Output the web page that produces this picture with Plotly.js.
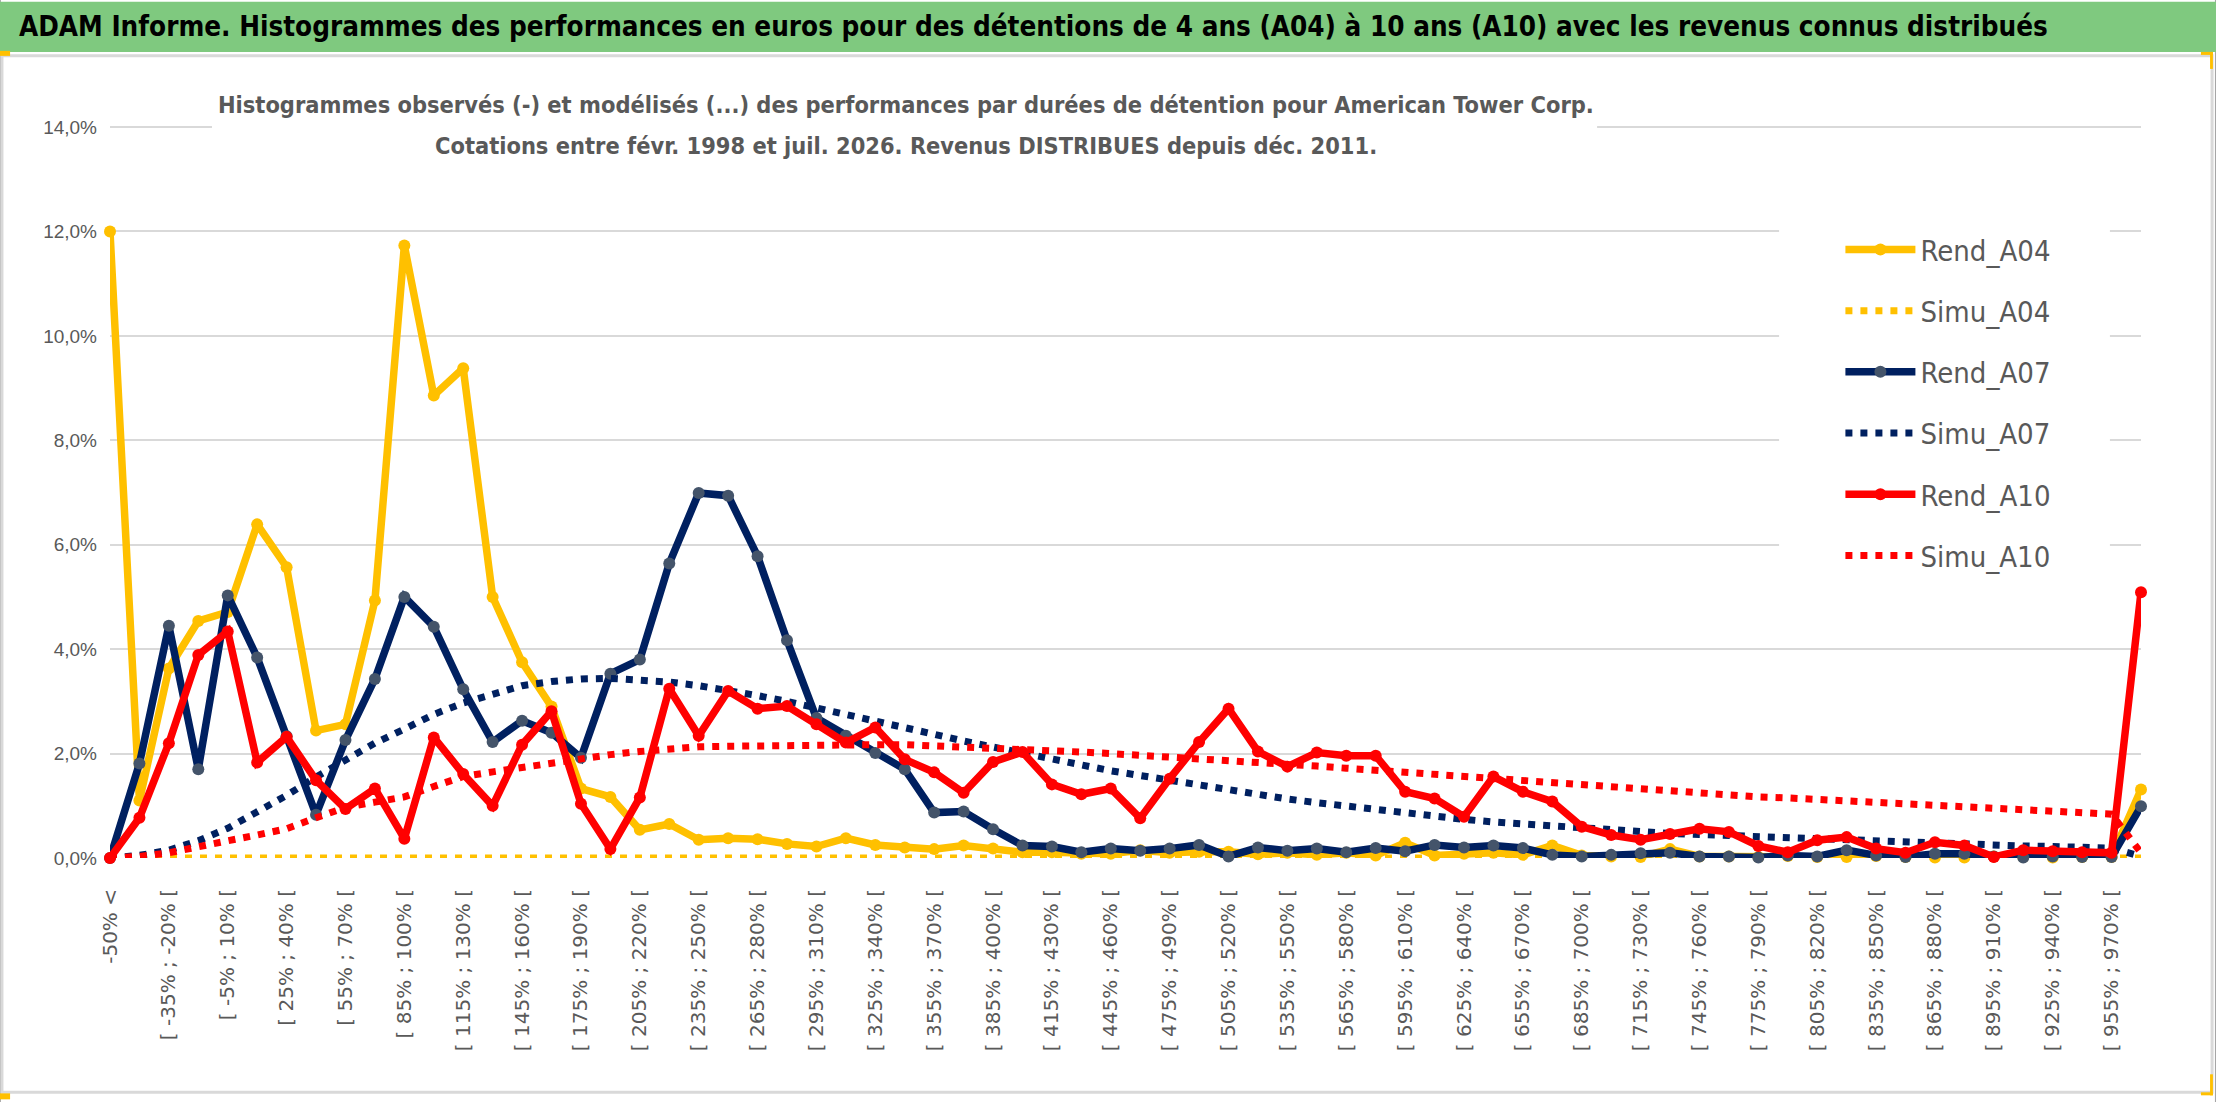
<!DOCTYPE html>
<html>
<head>
<meta charset="utf-8">
<script src="https://cdn.plot.ly/plotly-3.0.1.min.js"></script>
<style>
  html, body { margin: 0; padding: 0; background: #fff; }
</style>
</head>
<body>
<div id="chart"></div>
<script>
// classes de performance (70 intervalles)
const categories = [
  "-50% <",
  "[ -50% ; -35% [", "[ -35% ; -20% [", "[ -20% ; -5% [", "[ -5% ; 10% [", "[ 10% ; 25% [",
  "[ 25% ; 40% [", "[ 40% ; 55% [", "[ 55% ; 70% [", "[ 70% ; 85% [", "[ 85% ; 100% [",
  "[ 100% ; 115% [", "[ 115% ; 130% [", "[ 130% ; 145% [", "[ 145% ; 160% [", "[ 160% ; 175% [",
  "[ 175% ; 190% [", "[ 190% ; 205% [", "[ 205% ; 220% [", "[ 220% ; 235% [", "[ 235% ; 250% [",
  "[ 250% ; 265% [", "[ 265% ; 280% [", "[ 280% ; 295% [", "[ 295% ; 310% [", "[ 310% ; 325% [",
  "[ 325% ; 340% [", "[ 340% ; 355% [", "[ 355% ; 370% [", "[ 370% ; 385% [", "[ 385% ; 400% [",
  "[ 400% ; 415% [", "[ 415% ; 430% [", "[ 430% ; 445% [", "[ 445% ; 460% [", "[ 460% ; 475% [",
  "[ 475% ; 490% [", "[ 490% ; 505% [", "[ 505% ; 520% [", "[ 520% ; 535% [", "[ 535% ; 550% [",
  "[ 550% ; 565% [", "[ 565% ; 580% [", "[ 580% ; 595% [", "[ 595% ; 610% [", "[ 610% ; 625% [",
  "[ 625% ; 640% [", "[ 640% ; 655% [", "[ 655% ; 670% [", "[ 670% ; 685% [", "[ 685% ; 700% [",
  "[ 700% ; 715% [", "[ 715% ; 730% [", "[ 730% ; 745% [", "[ 745% ; 760% [", "[ 760% ; 775% [",
  "[ 775% ; 790% [", "[ 790% ; 805% [", "[ 805% ; 820% [", "[ 820% ; 835% [", "[ 835% ; 850% [",
  "[ 850% ; 865% [", "[ 865% ; 880% [", "[ 880% ; 895% [", "[ 895% ; 910% [", "[ 910% ; 925% [",
  "[ 925% ; 940% [", "[ 940% ; 955% [", "[ 955% ; 970% [", "970% >"
];

// frequences en %
const rendA04 = [12.0, 1.1, 3.63, 4.54, 4.71, 6.39, 5.57, 2.44, 2.56, 4.93,
  11.73, 8.86, 9.38, 5.0, 3.75, 2.9, 1.33, 1.17, 0.54, 0.65,
  0.35, 0.38, 0.36, 0.27, 0.22, 0.38, 0.25, 0.2, 0.17, 0.24,
  0.18, 0.11, 0.11, 0.08, 0.08, 0.15, 0.1, 0.12, 0.12, 0.07,
  0.1, 0.06, 0.1, 0.05, 0.29, 0.05, 0.08, 0.1, 0.06, 0.24,
  0.05, 0.03, 0.02, 0.17, 0.03, 0.03, 0.02, 0.04, 0.02, 0.02,
  0.04, 0.02, 0.01, 0.01, 0.03, 0.02, 0.01, 0.02, 0.02, 1.31];
const simuA04 = [0, 0, 0, 0, 0, 0, 0, 0, 0, 0,
  0, 0, 0, 0, 0, 0, 0, 0, 0, 0,
  0, 0, 0, 0, 0, 0, 0, 0, 0, 0,
  0, 0, 0, 0, 0, 0, 0, 0, 0, 0,
  0, 0, 0, 0, 0, 0, 0, 0, 0, 0,
  0, 0, 0, 0, 0, 0, 0, 0, 0, 0,
  0, 0, 0, 0, 0, 0, 0, 0, 0, 0];
const rendA07 = [0, 1.81, 4.45, 1.7, 5.03, 3.84, 2.33, 0.83, 2.26, 3.43,
  5.0, 4.43, 3.23, 2.22, 2.63, 2.4, 1.92, 3.53, 3.8, 5.64,
  6.99, 6.94, 5.78, 4.17, 2.68, 2.34, 2.01, 1.7, 0.87, 0.89,
  0.55, 0.24, 0.22, 0.11, 0.18, 0.14, 0.18, 0.25, 0.03, 0.2,
  0.14, 0.18, 0.11, 0.19, 0.13, 0.25, 0.2, 0.24, 0.19, 0.06,
  0.03, 0.06, 0.09, 0.1, 0.03, 0.03, 0.01, 0.05, 0.03, 0.15,
  0.05, 0.02, 0.08, 0.08, 0.03, 0.01, 0.03, 0.02, 0.02, 0.99];
const simuA07 = [0, 0.05, 0.15, 0.33, 0.57, 0.88, 1.2, 1.55, 1.88, 2.2,
  2.47, 2.75, 2.97, 3.15, 3.3, 3.38, 3.43, 3.44, 3.41, 3.37,
  3.3, 3.22, 3.11, 3.0, 2.88, 2.75, 2.62, 2.5, 2.37, 2.24,
  2.12, 2.0, 1.89, 1.78, 1.67, 1.58, 1.49, 1.38, 1.29, 1.21,
  1.13, 1.06, 0.99, 0.92, 0.85, 0.79, 0.74, 0.69, 0.65, 0.6,
  0.56, 0.53, 0.5, 0.47, 0.45, 0.43, 0.4, 0.37, 0.35, 0.32,
  0.3, 0.29, 0.27, 0.25, 0.24, 0.23, 0.22, 0.2, 0.19, 0.03];
const rendA10 = [0, 0.77, 2.2, 3.89, 4.34, 1.83, 2.32, 1.49, 0.94, 1.33,
  0.37, 2.31, 1.61, 1.0, 2.17, 2.81, 1.04, 0.17, 1.16, 3.24,
  2.34, 3.2, 2.86, 2.91, 2.56, 2.21, 2.5, 1.89, 1.64, 1.25,
  1.84, 2.03, 1.41, 1.22, 1.33, 0.76, 1.52, 2.22, 2.86, 2.04,
  1.75, 2.02, 1.96, 1.96, 1.27, 1.14, 0.79, 1.56, 1.27, 1.08,
  0.6, 0.44, 0.35, 0.46, 0.56, 0.5, 0.23, 0.11, 0.34, 0.4,
  0.18, 0.1, 0.3, 0.24, 0.02, 0.15, 0.13, 0.11, 0.1, 5.09];
const simuA10 = [0, 0.03, 0.1, 0.2, 0.33, 0.44, 0.56, 0.77, 0.97, 1.07,
  1.17, 1.37, 1.56, 1.65, 1.74, 1.83, 1.92, 1.98, 2.04, 2.09,
  2.13, 2.14, 2.15, 2.17, 2.18, 2.18, 2.17, 2.17, 2.15, 2.14,
  2.12, 2.1, 2.06, 2.03, 2.0, 1.97, 1.93, 1.9, 1.86, 1.82,
  1.79, 1.76, 1.72, 1.68, 1.63, 1.6, 1.56, 1.52, 1.48, 1.45,
  1.42, 1.37, 1.33, 1.29, 1.25, 1.21, 1.17, 1.15, 1.12, 1.08,
  1.05, 1.02, 0.99, 0.97, 0.94, 0.92, 0.89, 0.87, 0.84, 0.1];

const yTicks = [0, 2, 4, 6, 8, 10, 12, 14];
const yTickLabels = ['0,0%', '2,0%', '4,0%', '6,0%', '8,0%', '10,0%', '12,0%', '14,0%'];

const CHART = document.getElementById('chart');

// une etiquette sur deux, une grille sur quatre
let tickCats = [];
for (let i = 0; i < categories.length; i += 2) tickCats.push(categories[i]);
let gridIdx = [];
for (let i = 0; i < categories.length; i += 4) gridIdx.push(i);

const FONT_N = 'DejaVu Sans Condensed, Liberation Sans, sans-serif';
const GREY = '#595959';
const HANDLE = '#FFC000';

function rend(name, y, color, mcolor, g) {
  return {
    x: categories, y: y, type: 'scatter', mode: 'lines+markers', name: name,
    line: {color: color, width: 7.5},
    marker: {color: mcolor, size: 12},
    cliponaxis: false, legendgroup: g
  };
}
function simu(name, y, color, g) {
  return {
    x: categories, y: y, type: 'scatter', mode: 'lines', name: name,
    line: {color: color, width: 7, dash: '7px,8px'},
    cliponaxis: false, legendgroup: g
  };
}
function box(x0, x1, y0, y1, fill) {
  return {type: 'rect', xref: 'paper', yref: 'paper', x0: x0, x1: x1, y0: y0, y1: y1,
    line: {width: 0}, fillcolor: fill};
}

var data = [
  rend('Rend_A04', rendA04, '#FFC000', '#FFC000', 'g1'),
  simu('Simu_A04', simuA04, '#FFC000', 'g2'),
  rend('Rend_A07', rendA07, '#002060', '#44546A', 'g3'),
  simu('Simu_A07', simuA07, '#002060', 'g4'),
  rend('Rend_A10', rendA10, '#FF0000', '#FF0000', 'g5'),
  simu('Simu_A10', simuA10, '#FF0000', 'g6')
];

var layout = {
  width: 2216, height: 1102,
  margin: {l: 110, r: 75, t: 126, b: 244},
  paper_bgcolor: '#ffffff', plot_bgcolor: '#ffffff',
  separators: ', ',
  xaxis: {
    type: 'category', range: [0, 69], tickmode: 'array', tickvals: tickCats,
    tickangle: -90, showgrid: false, zeroline: false, showline: false, ticks: '',
    ticklabelstandoff: 26,
    tickfont: {family: 'DejaVu Sans', size: 20, color: GREY}
  },
  xaxis2: {
    overlaying: 'x', anchor: 'y', range: [0, 69], tickmode: 'array', tickvals: gridIdx,
    showticklabels: false, showgrid: true, gridcolor: '#d9d9d9', gridwidth: 2,
    zeroline: false, ticks: ''
  },
  yaxis: {
    range: [0, 14.02], tickmode: 'array', tickvals: yTicks, ticktext: yTickLabels,
    gridcolor: '#d9d9d9', gridwidth: 2, zeroline: false, ticks: '', ticklabelstandoff: 12,
    tickfont: {family: 'Liberation Sans', size: 19, color: GREY}
  },
  legend: {
    x: 0.852, y: 0.866, xanchor: 'left', yanchor: 'top',
    bgcolor: 'rgba(0,0,0,0)', tracegroupgap: 20.5, itemwidth: 70,
    font: {family: FONT_N, size: 29, color: GREY}
  },
  shapes: [
    {type: 'rect', xref: 'paper', yref: 'paper', x0: -0.0542, x1: 1.0369, y0: -0.3366, y1: 1.1737,
      line: {color: '#a6a6a6', width: 2}, fillcolor: 'rgba(0,0,0,0)'},
    box(-0.0542, 1.0369, 1.1012, 1.1696, '#7FC97F'),
    {type: 'rect', xref: 'paper', yref: 'paper', x0: -0.0532, x1: 1.035, y0: -0.3201, y1: 1.0958,
      line: {color: '#d9d9d9', width: 3}, fillcolor: 'rgba(0,0,0,0)'},
    // fonds blancs du sous-titre et de la legende
    box(0.0502, 0.7322, 0.9412, 1.0643, '#ffffff'),
    box(0.8218, 0.9847, 0.3721, 0.8755, '#ffffff'),
    // poignees de selection aux coins
    box(-0.0542, -0.0492, 1.0958, 1.1026, HANDLE),
    box(-0.0542, -0.0492, -0.3297, -0.3215, HANDLE),
    box(1.0295, 1.0354, 1.0971, 1.1012, HANDLE),
    box(1.0340, 1.0354, 1.0780, 1.1012, HANDLE),
    box(1.0340, 1.0354, -0.3242, -0.2955, HANDLE),
    box(1.0295, 1.0354, -0.3242, -0.3201, HANDLE)
  ],
  annotations: [
    {xref: 'paper', yref: 'paper', x: -0.0458, y: 1.1354, xanchor: 'left', yanchor: 'middle', showarrow: false,
      text: '<b>ADAM Informe. Histogrammes des performances en euros pour des détentions de 4 ans (A04) à 10 ans (A10) avec les revenus connus distribués</b>',
      font: {family: FONT_N, size: 27.6, color: '#000000'}},
    {xref: 'paper', yref: 'paper', x: 0.3919, y: 1.0287, xanchor: 'center', yanchor: 'middle', showarrow: false,
      text: '<b>Histogrammes observés (-) et modélisés (...) des performances par durées de détention pour American Tower Corp.</b>',
      font: {family: FONT_N, size: 23.4, color: GREY}},
    {xref: 'paper', yref: 'paper', x: 0.3919, y: 0.9726, xanchor: 'center', yanchor: 'middle', showarrow: false,
      text: '<b>Cotations entre févr. 1998 et juil. 2026. Revenus DISTRIBUES depuis déc. 2011.</b>',
      font: {family: FONT_N, size: 23.4, color: GREY}}
  ]
};

Plotly.newPlot(CHART, data, layout, {displayModeBar: false, staticPlot: true});
</script>
</body>
</html>
